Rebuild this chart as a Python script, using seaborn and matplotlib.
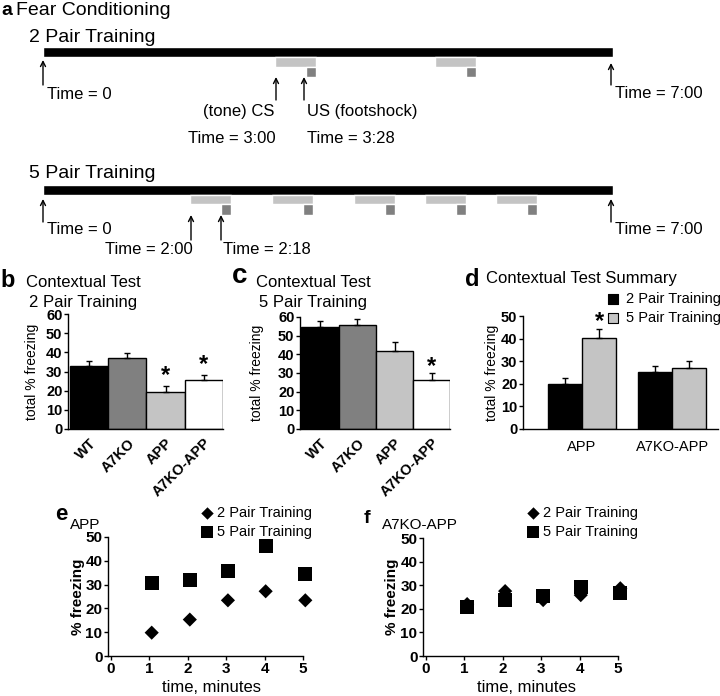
import numpy as np
import pandas as pd
import matplotlib
matplotlib.use('Agg')
import matplotlib.pyplot as plt
import seaborn as sns

sns.set_style('ticks', {'axes.edgecolor': 'black', 'xtick.color': 'black',
                        'ytick.color': 'black', 'text.color': 'black',
                        'axes.labelcolor': 'black'})
plt.rcParams['font.family'] = ['Liberation Sans', 'DejaVu Sans']

W, H = 720, 696

# ---- panel a: training protocol schematic (positions along the timeline, px) ----
tone_2pair = [275, 435]
tone_5pair = [190, 272, 354, 425, 496]

# ---- panels b, c: contextual test per genotype ----
genotypes = ['WT', 'A7KO', 'APP', 'A7KO-APP']
geno_colors = ['#000000', '#808080', '#c4c4c4', '#ffffff']
b_mean = [32.9, 36.9, 19.5, 25.6]
b_sem = [2.8, 2.6, 2.9, 2.6]
b_stars = {'APP': 28.0, 'A7KO-APP': 33.5}
c_mean = [54.5, 55.9, 42.0, 26.4]
c_sem = [3.2, 3.2, 4.4, 3.6]
c_stars = {'A7KO-APP': 33.5}

# ---- panel d: summary ----
d_groups = ['APP', 'A7KO-APP']
trainings = ['2 Pair Training', '5 Pair Training']
d_2pair = [20.0, 25.1]
d_2pair_sem = [2.5, 2.8]
d_5pair = [40.1, 26.8]
d_5pair_sem = [4.2, 3.5]

# ---- panels e, f: freezing by minute ----
minutes = [1.07, 2.06, 3.05, 4.03, 5.06]
e_2pair = [9.8, 15.3, 23.4, 27.2, 23.4]
e_5pair = [30.7, 31.8, 35.6, 46.1, 34.3]
f_2pair = [22.0, 27.5, 23.7, 25.8, 28.7]
f_5pair = [20.8, 23.6, 25.5, 29.2, 26.8]

FS_TL = 12


def px_axes(fig, left, top, right, bottom):
    return fig.add_axes([left / W, 1 - bottom / H, (right - left) / W, (bottom - top) / H])


def style_axis(ax):
    sns.despine(ax=ax)
    ax.patch.set_alpha(0)
    for s in ['left', 'bottom']:
        ax.spines[s].set_linewidth(1.0)
        ax.spines[s].set_color('black')


def bold_ticks(labels):
    for lbl in labels:
        lbl.set_fontweight('bold')


def genotype_bars(ax, means, sems, stars, xlim):
    df = pd.DataFrame({'genotype': genotypes, 'freezing': means})
    sns.barplot(data=df, x='genotype', y='freezing', hue='genotype', palette=geno_colors,
                width=1.0, edgecolor='black', linewidth=1, errorbar=None, legend=False, ax=ax)
    ax.errorbar(range(len(means)), means, yerr=[np.zeros(len(sems)), sems], fmt='none',
                ecolor='black', elinewidth=1, capsize=2, capthick=1)
    for g, y in stars.items():
        ax.text(genotypes.index(g), y, '*', ha='center', va='center', fontsize=17, fontweight='bold')
    ax.set_xlim(*xlim)
    ax.set_ylim(0, 60)
    ax.set_yticks(range(0, 61, 10))
    ax.set_xlabel('')
    ax.set_ylabel('total % freezing', fontsize=10)
    ax.tick_params(axis='y', length=3, width=1, labelsize=10.5, pad=1)
    ax.tick_params(axis='x', length=0, labelsize=10.5, pad=5)
    bold_ticks(ax.get_yticklabels())
    bold_ticks(ax.get_xticklabels())
    plt.setp(ax.get_xticklabels(), rotation=45, ha='right', va='top', rotation_mode='anchor')
    style_axis(ax)


def minute_scatter(ax, p2, p5, xlim):
    df = pd.DataFrame({'time': minutes * 2, 'freezing': p2 + p5,
                       'training': [trainings[0]] * len(p2) + [trainings[1]] * len(p5)})
    sns.scatterplot(data=df, x='time', y='freezing', style='training',
                    markers={trainings[0]: 'D', trainings[1]: 's'},
                    size='training', sizes={trainings[0]: 52, trainings[1]: 105},
                    color='black', linewidth=0, legend=False, ax=ax, clip_on=False)
    ax.set_xlim(*xlim)
    ax.set_ylim(0, 50)
    ax.set_xticks(range(0, 6))
    ax.set_yticks(range(0, 51, 10))
    ax.set_xlabel('time, minutes', fontsize=12)
    ax.set_ylabel('% freezing', fontsize=11, fontweight='bold')
    ax.tick_params(axis='both', length=3, width=1, labelsize=11, pad=1)
    bold_ticks(ax.get_yticklabels())
    bold_ticks(ax.get_xticklabels())
    style_axis(ax)


fig = plt.figure(figsize=(W / 100, H / 100), dpi=100)

# overlay in pixel coordinates for schematic, letters, titles and legends
ax0 = fig.add_axes([0, 0, 1, 1])
ax0.set_xlim(0, W)
ax0.set_ylim(H, 0)
ax0.axis('off')
ax0.set_zorder(10)


def arrow(x, tail, tip):
    ax0.annotate('', xy=(x, tip), xytext=(x, tail),
                 arrowprops=dict(arrowstyle='->', lw=1, color='black',
                                 shrinkA=0, shrinkB=0, mutation_scale=9))


def timeline(bar_top, tones, tone_h, shock_h):
    ax0.broken_barh([(43, 570)], (bar_top, 10), facecolors='black')
    ax0.broken_barh([(t, 41) for t in tones], (bar_top + 10, tone_h), facecolors='#c4c4c4')
    ax0.broken_barh([(t + 31, 10) for t in tones], (bar_top + 10 + tone_h, shock_h), facecolors='#808080')


ax0.text(1, 15, 'a', fontsize=14, fontweight='bold', va='baseline')
ax0.text(16, 15, 'Fear Conditioning', fontsize=14, va='baseline')

# 2 pair training
ax0.text(29, 42, '2 Pair Training', fontsize=14, va='baseline')
timeline(47, tone_2pair, 10, 10)
arrow(43, 85, 60)
arrow(276, 100, 77)
arrow(304, 100, 77)
arrow(611, 85, 63)
ax0.text(47, 99, 'Time = 0', fontsize=FS_TL, va='baseline')
ax0.text(274, 116, '(tone) CS', fontsize=FS_TL, va='baseline', ha='right')
ax0.text(307, 116, 'US (footshock)', fontsize=FS_TL, va='baseline')
ax0.text(276, 143, 'Time = 3:00', fontsize=FS_TL, va='baseline', ha='right')
ax0.text(307, 143, 'Time = 3:28', fontsize=FS_TL, va='baseline')
ax0.text(615, 98, 'Time = 7:00', fontsize=FS_TL, va='baseline')

# 5 pair training
ax0.text(29, 178, '5 Pair Training', fontsize=14, va='baseline')
timeline(185, tone_5pair, 9, 11)
arrow(43, 222, 199)
arrow(191, 240, 215)
arrow(221, 240, 215)
arrow(611, 222, 199)
ax0.text(47, 234, 'Time = 0', fontsize=FS_TL, va='baseline')
ax0.text(193, 254, 'Time = 2:00', fontsize=FS_TL, va='baseline', ha='right')
ax0.text(223, 254, 'Time = 2:18', fontsize=FS_TL, va='baseline')
ax0.text(615, 234, 'Time = 7:00', fontsize=FS_TL, va='baseline')

# panel b
ax0.text(0, 287, 'b', fontsize=17, fontweight='bold', va='baseline')
ax0.text(26, 287, 'Contextual Test', fontsize=12, va='baseline')
ax0.text(29, 307, '2 Pair Training', fontsize=12, va='baseline')
ax_b = px_axes(fig, 68, 314, 223, 429)
genotype_bars(ax_b, b_mean, b_sem, b_stars, (-0.55, 3.5))
ax_b.yaxis.set_label_coords(-0.19, 0.5)

# panel c
ax0.text(232, 283, 'c', fontsize=20, fontweight='bold', va='baseline')
ax0.text(256, 287, 'Contextual Test', fontsize=12, va='baseline')
ax0.text(259, 307, '5 Pair Training', fontsize=12, va='baseline')
ax_c = px_axes(fig, 300, 317, 450, 429)
genotype_bars(ax_c, c_mean, c_sem, c_stars, (-0.54, 3.49))
ax_c.yaxis.set_label_coords(-0.24, 0.5)

# panel d
ax0.text(465, 286, 'd', fontsize=17, fontweight='bold', va='baseline')
ax0.text(486, 283, 'Contextual Test Summary', fontsize=12, va='baseline')
ax_d = px_axes(fig, 523, 316, 718, 429)
df_d = pd.DataFrame({'group': d_groups * 2, 'freezing': d_2pair + d_5pair,
                     'training': [trainings[0]] * 2 + [trainings[1]] * 2})
sns.barplot(data=df_d, x='group', y='freezing', hue='training', palette=['#000000', '#c4c4c4'],
            width=0.76, edgecolor='black', linewidth=1, errorbar=None, legend=False, ax=ax_d)
for cont, sems in zip(ax_d.containers, [d_2pair_sem, d_5pair_sem]):
    xs = [p.get_x() + p.get_width() / 2 for p in cont]
    hs = [p.get_height() for p in cont]
    ax_d.errorbar(xs, hs, yerr=[np.zeros(len(sems)), sems], fmt='none',
                  ecolor='black', elinewidth=1, capsize=2, capthick=1)
star_bar = ax_d.containers[1][0]
ax_d.text(star_bar.get_x() + star_bar.get_width() / 2, 47.5, '*', ha='center', va='center',
          fontsize=17, fontweight='bold')
ax_d.set_xlim(-0.656, 1.51)
ax_d.set_ylim(0, 50)
ax_d.set_yticks(range(0, 51, 10))
ax_d.set_xlabel('')
ax_d.set_ylabel('total % freezing', fontsize=10)
ax_d.yaxis.set_label_coords(-0.123, 0.5)
ax_d.tick_params(axis='y', length=3, width=1, labelsize=10.5, pad=1)
ax_d.tick_params(axis='x', length=0, labelsize=10.5, pad=8)
bold_ticks(ax_d.get_yticklabels())
style_axis(ax_d)
for y, lab, col in [(299, trainings[0], '#000000'), (318, trainings[1], '#c4c4c4')]:
    ax0.scatter([613], [y], marker='s', s=62, c=col, edgecolors='black', linewidths=0.8)
    ax0.text(626, y, lab, fontsize=10.5, va='center')

# panel e
ax0.text(55, 520, 'e', fontsize=16, fontweight='bold', va='baseline')
ax0.text(70, 529, 'APP', fontsize=11, va='baseline')
ax_e = px_axes(fig, 108, 537, 303, 656)
minute_scatter(ax_e, e_2pair, e_5pair, (-0.065, 5.0))
ax_e.yaxis.set_label_coords(-0.118, 0.5)
ax_e.xaxis.set_label_coords(0.53, -0.2)
for y, mk, sz in [(513, 'D', 40), (532, 's', 75)]:
    ax0.scatter([207], [y], marker=mk, s=sz, c='black', linewidths=0)
ax0.text(217, 513, trainings[0], fontsize=10.5, va='center')
ax0.text(217, 532, trainings[1], fontsize=10.5, va='center')

# panel f
ax0.text(364, 523, 'f', fontsize=14, fontweight='bold', va='baseline')
ax0.text(382, 529, 'A7KO-APP', fontsize=11, va='baseline')
ax_f = px_axes(fig, 423, 538, 618, 656)
minute_scatter(ax_f, f_2pair, f_5pair, (-0.08, 5.0))
ax_f.yaxis.set_label_coords(-0.123, 0.5)
ax_f.xaxis.set_label_coords(0.533, -0.2)
for y, mk, sz in [(513, 'D', 40), (532, 's', 75)]:
    ax0.scatter([533], [y], marker=mk, s=sz, c='black', linewidths=0)
ax0.text(543, 513, trainings[0], fontsize=10.5, va='center')
ax0.text(543, 532, trainings[1], fontsize=10.5, va='center')

fig.savefig('out.png', dpi=100)
